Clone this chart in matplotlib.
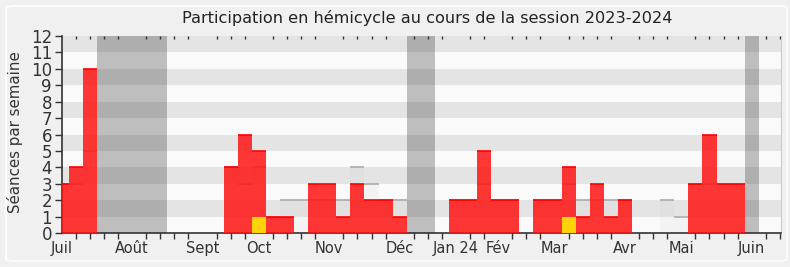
import numpy as np
import matplotlib
matplotlib.use("Agg")
import matplotlib.pyplot as plt
from matplotlib.patches import FancyBboxPatch

# one value per week, week 0 = first week of July 2023
presence = [3, 4, 10, 0, 0, 0, 0, 0, 0, 0, 0, 0, 4, 6, 5, 1, 1, 0, 3, 3,
            1, 3, 2, 2, 1, 0, 0, 0, 2, 2, 5, 2, 2, 0, 2, 2, 4, 1, 3, 1,
            2, 0, 0, 0, 0, 3, 6, 3, 3, 0, 0, 0]
mediane = [3, 3, 5, 0, 0, 0, 0, 0, 0, 0, 0, 0, 4, 3, 4, 1, 2, 2, 2, 2,
           2, 4, 3, 2, 2, 0, 0, 0, 2, 2, 3, 2, 2, 0, 2, 2, 3, 2, 2, 2,
           2, 0, 0, 2, 1, 3, 3, 3, 3, 0, 0, 0]
interventions = [0] * 52
interventions[14] = 1
interventions[36] = 1
vacances = [3, 4, 5, 6, 7, 25, 26, 49]

mois = ["Juil", "Août", "Sept", "Oct", "Nov", "Déc", "Jan 24", "Fév",
        "Mar", "Avr", "Mai", "Juin"]
mois_semaine = [0, 5, 10, 14, 19, 24, 28, 31, 35, 40, 44, 49]

weeks = np.arange(len(presence))
presence = np.array(presence)
mediane = np.array(mediane)
interventions = np.array(interventions)

fig = plt.figure(figsize=(7.9, 2.67), dpi=100)
fig.patch.set_facecolor("#f0f0f0")
fig.patches.append(FancyBboxPatch((6 / 790, 6 / 267), 781 / 790, 255 / 267,
                                  boxstyle="round,pad=0,rounding_size=0.01",
                                  transform=fig.transFigure, facecolor="none",
                                  edgecolor="#fbfbfb", lw=1.5))

ax = fig.add_axes([61.7 / 790, 34 / 267, 719.3 / 790, 197 / 267])
ax.set_facecolor("#fafafa")

# alternating bands
for i in range(1, 12, 2):
    ax.axhspan(i, i + 1, color="#e4e4e4", lw=0, zorder=0)

# holidays
for v in vacances:
    ax.axvspan(v - 0.5, v + 0.5, color=(0.12, 0.12, 0.12, 0.27), lw=0, zorder=1)

# median of all deputies
m = mediane > 0
ax.bar(weeks[m], mediane[m], width=1, color=(0.78, 0.78, 0.78, 0.13), lw=0, zorder=2)
ax.hlines(mediane[m], weeks[m] - 0.5, weeks[m] + 0.5, color="#b0b0b0", lw=1.3, zorder=2)

# presence
p = presence > 0
ax.bar(weeks[p], presence[p], width=1, color=(1.0, 0.08, 0.08, 0.85), lw=0, zorder=3)
ax.hlines(presence[p], weeks[p] - 0.5, weeks[p] + 0.5, color="#ff0000", lw=1.2, zorder=3)

# interventions
k = interventions > 0
ax.bar(weeks[k], interventions[k], width=1, color="#ffd20a", lw=0, zorder=4)

ax.set_xlim(0.03, 51.08)
ax.set_ylim(0, 12)

ax.set_yticks(range(13))
ax.tick_params(axis="y", direction="out", length=5, width=1, colors="#333333",
               labelsize=12, pad=2)
ax.set_xticks(mois_semaine)
ax.set_xticklabels(mois)
ax.set_xticks(weeks, minor=True)
ax.tick_params(axis="x", which="major", length=0, labelsize=10.5,
               labelcolor="#333333", pad=6)
ax.tick_params(axis="x", which="minor", direction="out", length=4, width=1,
               color="#333333", top=True)
for t in ax.xaxis.get_minor_ticks():
    t.tick2line.set_markersize(2)
    t.tick2line.set_marker(3)

for s in ["left", "bottom"]:
    ax.spines[s].set_color("#333333")
    ax.spines[s].set_linewidth(1.2)
ax.spines["top"].set_visible(False)
ax.spines["right"].set_color("#cccccc")

fig.text(427 / 790, 1 - 18 / 267, "Participation en hémicycle au cours de la session 2023-2024",
         ha="center", va="center", fontsize=11.6, color="#222222")
fig.text(15 / 790, 1 - 132 / 267, "Séances par semaine", rotation=90,
         ha="center", va="center", fontsize=10.8, color="#333333")

fig.savefig("out.png", dpi=100, facecolor=fig.get_facecolor())
